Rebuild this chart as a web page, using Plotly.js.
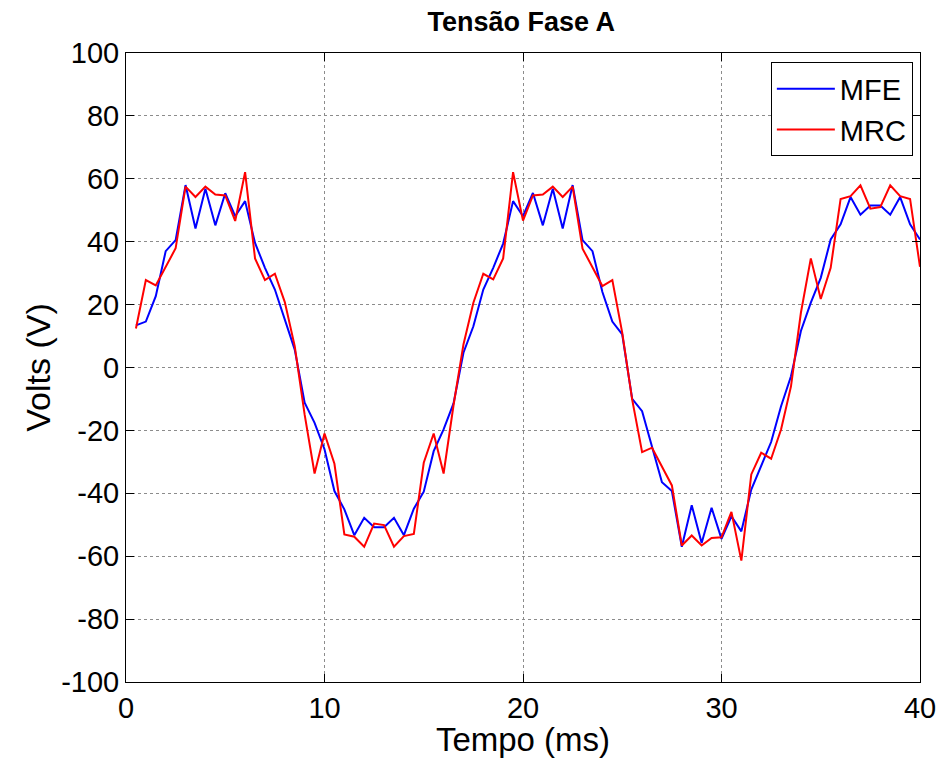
<!DOCTYPE html>
<html>
<head>
<meta charset="utf-8">
<script src="https://cdn.plot.ly/plotly-3.0.1.min.js"></script>
<style>html,body{margin:0;padding:0;background:#fff;}#chart{width:940px;height:758px;}</style>
</head>
<body>
<div id="chart"></div>
<script>
// Time samples (ms)
const tempo = [0.5,1,1.5,2,2.5,3,3.5,4,4.5,5,5.5,6,6.5,7,7.5,8,8.5,9,9.5,10,
  10.5,11,11.5,12,12.5,13,13.5,14,14.5,15,15.5,16,16.5,17,17.5,18,18.5,19,19.5,20,
  20.5,21,21.5,22,22.5,23,23.5,24,24.5,25,25.5,26,26.5,27,27.5,28,28.5,29,29.5,30,
  30.5,31,31.5,32,32.5,33,33.5,34,34.5,35,35.5,36,36.5,37,37.5,38,38.5,39,39.5,40];

const mfe = [13.4,14.6,22.7,37,40.5,58,44.2,56.8,45.2,55.4,48.1,52.9,39.6,31.7,24.8,15.3,5.7,-11.2,-17.6,-26,
  -39.3,-45.1,-53.3,-47.8,-50.8,-50.8,-47.8,-53.3,-44.9,-39.5,-26.6,-19.7,-11.4,4.7,13.1,24.8,31.7,39.4,52.9,48.1,
  55.5,45.2,56.8,44.2,58,40.5,37,24,14.6,10.5,-10,-13.9,-25,-36.5,-39.3,-57,-43.8,-55.8,-44.6,-54.5,
  -47.3,-52.1,-38.8,-31.4,-23.7,-12.3,-2.8,11.6,20.6,28.5,40.7,45.5,54.2,48.6,51.5,51.5,48.6,54.2,45.5,40.7];

const mrc = [12.4,27.8,26.1,32,37.9,57.5,54.2,57.5,55,54.7,46.6,62.1,34.7,27.8,29.8,20.8,6.8,-15,-33.7,-21,
  -30.6,-53.1,-53.8,-57,-49.6,-50.1,-57,-53.6,-52.9,-30.3,-21,-33.7,-12,7.3,20.6,29.8,28,34.7,62.1,46.7,
  54.7,55,57.5,54.2,57.5,37.8,32,25.9,27.8,11,-10.2,-26.9,-25.5,-31.4,-37.5,-56.6,-53.4,-56.6,-54.2,-54,
  -45.9,-61.4,-34,-27.1,-29,-19.7,-6,17.4,34.7,21.8,31.7,53.6,54.5,57.9,50.5,51,57.9,54.5,53.6,32];

const yTicks = [-100,-80,-60,-40,-20,0,20,40,60,80,100];
const yTickLabels = ['-100','-80','-60','-40','-20','0','20','40','60','80','100'];
const xTicks = [0,10,20,30,40];
const xTickLabels = ['0','10','20','30','40'];

const FONT = "Liberation Sans, Arial, Helvetica, sans-serif";

const traces = [
  {x: tempo, y: mfe, type: 'scatter', mode: 'lines', name: 'MFE',
   line: {color: 'rgb(0,0,255)', width: 2}},
  {x: tempo, y: mrc, type: 'scatter', mode: 'lines', name: 'MRC',
   line: {color: 'rgb(255,0,0)', width: 2}}
];

const axisCommon = {
  showline: true, linecolor: '#000', linewidth: 1, mirror: 'ticks',
  ticks: 'inside', ticklen: 8, tickcolor: '#000', tickwidth: 1,
  showgrid: true, gridcolor: 'rgb(140,140,140)', griddash: 'dot', gridwidth: 1,
  zeroline: false, tickfont: {family: FONT, size: 29, color: '#000'}
};

const layout = {
  width: 940, height: 758,
  margin: {l: 126, r: 20, t: 53, b: 76},
  paper_bgcolor: '#fff', plot_bgcolor: '#fff',
  font: {family: FONT, color: '#000'},
  title: {text: '<b>Tensão Fase A</b>', font: {family: FONT, size: 27, color: '#000'},
          x: 0.5545, xanchor: 'center', y: 0.972, yanchor: 'middle'},
  xaxis: Object.assign({}, axisCommon, {
    range: [0, 40], tickmode: 'array', tickvals: xTicks, ticktext: xTickLabels,
    title: {text: 'Tempo (ms)', font: {family: FONT, size: 33, color: '#000'}, standoff: 0}
  }),
  yaxis: Object.assign({}, axisCommon, {
    range: [-100, 100], tickmode: 'array', tickvals: yTicks, ticktext: yTickLabels,
    title: {text: 'Volts (V)', font: {family: FONT, size: 34, color: '#000'}, standoff: 0}
  }),
  showlegend: true,
  legend: {x: 0.991, y: 0.985, xanchor: 'right', yanchor: 'top',
           bgcolor: '#fff', bordercolor: '#000', borderwidth: 1,
           font: {family: FONT, size: 29, color: '#000'},
           tracegroupgap: 0, itemwidth: 58}
};

Plotly.newPlot('chart', traces, layout, {displayModeBar: false, staticPlot: true});
</script>
</body>
</html>
